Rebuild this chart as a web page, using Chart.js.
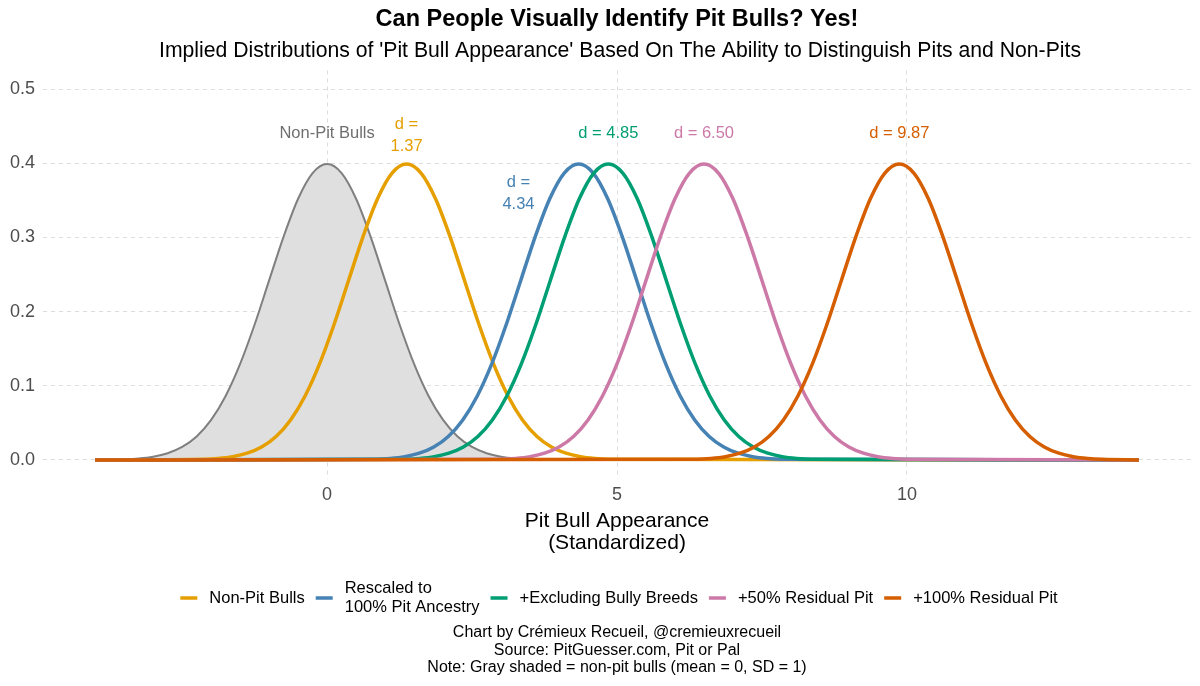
<!DOCTYPE html>
<html>
<head>
<meta charset="utf-8">
<script src="https://cdn.jsdelivr.net/npm/chart.js@4"></script>
<style>
  html, body { margin: 0; padding: 0; background: #ffffff; }
  #wrap { width: 1200px; height: 686px; }
</style>
</head>
<body>
<div id="wrap"><canvas id="chart" width="1200" height="686"></canvas></div>
<script>
// curve points (x = pit bull appearance, y = density)
const grayX = [-4, -3.5, -3.25, -3, -2.75, -2.5, -2.25, -2, -1.75, -1.5, -1.25, -1, -0.75, -0.5, -0.25, 0,
  0.25, 0.5, 0.75, 1, 1.25, 1.5, 1.75, 2, 2.25, 2.5, 2.75, 3, 3.25, 3.5, 4, 14];
const grayY = [0.0001, 0.0009, 0.002, 0.0044, 0.0091, 0.0175, 0.0317, 0.054, 0.0863, 0.1295, 0.1826, 0.242, 0.3011, 0.3521, 0.3867, 0.3989,
  0.3867, 0.3521, 0.3011, 0.242, 0.1826, 0.1295, 0.0863, 0.054, 0.0317, 0.0175, 0.0091, 0.0044, 0.002, 0.0009, 0.0001, 0];

const orangeX = [-4, -2.13, -1.88, -1.63, -1.38, -1.13, -0.88, -0.63, -0.38, -0.13, 0.12, 0.37, 0.62, 0.87, 1.12, 1.37,
  1.62, 1.87, 2.12, 2.37, 2.62, 2.87, 3.12, 3.37, 3.62, 3.87, 4.12, 4.37, 4.62, 4.87, 14];
const orangeY = [0, 0.0009, 0.002, 0.0044, 0.0091, 0.0175, 0.0317, 0.054, 0.0863, 0.1295, 0.1826, 0.242, 0.3011, 0.3521, 0.3867, 0.3989,
  0.3867, 0.3521, 0.3011, 0.242, 0.1826, 0.1295, 0.0863, 0.054, 0.0317, 0.0175, 0.0091, 0.0044, 0.002, 0.0009, 0];

const blueX = [-4, 0.84, 1.09, 1.34, 1.59, 1.84, 2.09, 2.34, 2.59, 2.84, 3.09, 3.34, 3.59, 3.84, 4.09, 4.34,
  4.59, 4.84, 5.09, 5.34, 5.59, 5.84, 6.09, 6.34, 6.59, 6.84, 7.09, 7.34, 7.59, 7.84, 14];
const blueY = [0, 0.0009, 0.002, 0.0044, 0.0091, 0.0175, 0.0317, 0.054, 0.0863, 0.1295, 0.1826, 0.242, 0.3011, 0.3521, 0.3867, 0.3989,
  0.3867, 0.3521, 0.3011, 0.242, 0.1826, 0.1295, 0.0863, 0.054, 0.0317, 0.0175, 0.0091, 0.0044, 0.002, 0.0009, 0];

const greenX = [-4, 1.35, 1.6, 1.85, 2.1, 2.35, 2.6, 2.85, 3.1, 3.35, 3.6, 3.85, 4.1, 4.35, 4.6, 4.85,
  5.1, 5.35, 5.6, 5.85, 6.1, 6.35, 6.6, 6.85, 7.1, 7.35, 7.6, 7.85, 8.1, 8.35, 14];
const greenY = [0, 0.0009, 0.002, 0.0044, 0.0091, 0.0175, 0.0317, 0.054, 0.0863, 0.1295, 0.1826, 0.242, 0.3011, 0.3521, 0.3867, 0.3989,
  0.3867, 0.3521, 0.3011, 0.242, 0.1826, 0.1295, 0.0863, 0.054, 0.0317, 0.0175, 0.0091, 0.0044, 0.002, 0.0009, 0];

const pinkX = [-4, 3, 3.25, 3.5, 3.75, 4, 4.25, 4.5, 4.75, 5, 5.25, 5.5, 5.75, 6, 6.25, 6.5,
  6.75, 7, 7.25, 7.5, 7.75, 8, 8.25, 8.5, 8.75, 9, 9.25, 9.5, 9.75, 10, 14];
const pinkY = [0, 0.0009, 0.002, 0.0044, 0.0091, 0.0175, 0.0317, 0.054, 0.0863, 0.1295, 0.1826, 0.242, 0.3011, 0.3521, 0.3867, 0.3989,
  0.3867, 0.3521, 0.3011, 0.242, 0.1826, 0.1295, 0.0863, 0.054, 0.0317, 0.0175, 0.0091, 0.0044, 0.002, 0.0009, 0];

const redX = [-4, 6.37, 6.62, 6.87, 7.12, 7.37, 7.62, 7.87, 8.12, 8.37, 8.62, 8.87, 9.12, 9.37, 9.62, 9.87,
  10.12, 10.37, 10.62, 10.87, 11.12, 11.37, 11.62, 11.87, 12.12, 12.37, 12.62, 12.87, 13.12, 13.37, 14];
const redY = [0, 0.0009, 0.002, 0.0044, 0.0091, 0.0175, 0.0317, 0.054, 0.0863, 0.1295, 0.1826, 0.242, 0.3011, 0.3521, 0.3867, 0.3989,
  0.3867, 0.3521, 0.3011, 0.242, 0.1826, 0.1295, 0.0863, 0.054, 0.0317, 0.0175, 0.0091, 0.0044, 0.002, 0.0009, 0.0001];

const seriesNames = ["Non-Pit Bulls", ["Rescaled to", "100% Pit Ancestry"], "+Excluding Bully Breeds", "+50% Residual Pit", "+100% Residual Pit"];
const seriesColors = ["#E69F00", "#4682B4", "#009E73", "#CC79A7", "#D55E00"];

// labels over the peaks: [text lines, x, y, colour]
const peakLabels = [
  [["Non-Pit Bulls"], 0, 0.44, "#6f6f6f"],
  [["d =", "1.37"], 1.37, 0.438, "#E69F00"],
  [["d =", "4.34"], 3.3, 0.359, "#4682B4"],
  [["d = 4.85"], 4.85, 0.44, "#009E73"],
  [["d = 6.50"], 6.5, 0.44, "#CC79A7"],
  [["d = 9.87"], 9.87, 0.44, "#D55E00"]
];

const xTicks = [0, 5, 10];
const yTicks = [0, 0.1, 0.2, 0.3, 0.4, 0.5];

const titleText = "Can People Visually Identify Pit Bulls? Yes!";
const subtitleText = "Implied Distributions of 'Pit Bull Appearance' Based On The Ability to Distinguish Pits and Non-Pits";
const xTitle = ["Pit Bull Appearance", "(Standardized)"];
const captionLines = [
  "Chart by Crémieux Recueil, @cremieuxrecueil",
  "Source: PitGuesser.com, Pit or Pal",
  "Note: Gray shaded = non-pit bulls (mean = 0, SD = 1)"
];

const FONT = "'Liberation Sans', Arial, sans-serif";

function pts(xs, ys) {
  return xs.map((x, i) => ({ x: x, y: ys[i] }));
}

function curve(xs, ys, color, order) {
  return {
    data: pts(xs, ys),
    borderColor: color,
    borderWidth: 3.5,
    pointRadius: 0,
    fill: false,
    cubicInterpolationMode: "monotone",
    order: order
  };
}

const datasets = [
  {
    data: pts(grayX, grayY),
    borderColor: "#7f7f7f",
    backgroundColor: "#dfdfdf",
    borderWidth: 2,
    pointRadius: 0,
    fill: "origin",
    cubicInterpolationMode: "monotone",
    order: 6
  },
  curve(orangeX, orangeY, seriesColors[0], 5),
  curve(blueX, blueY, seriesColors[1], 4),
  curve(greenX, greenY, seriesColors[2], 3),
  curve(pinkX, pinkY, seriesColors[3], 2),
  curve(redX, redY, seriesColors[4], 1)
];

const extras = {
  id: "extras",
  afterDraw(chart) {
    const ctx = chart.ctx;
    const xs = chart.scales.x;
    const ys = chart.scales.y;
    const cx = (chart.chartArea.left + chart.chartArea.right) / 2;
    ctx.save();
    ctx.textAlign = "center";
    ctx.textBaseline = "middle";

    // title + subtitle
    ctx.fillStyle = "#000000";
    ctx.font = "bold 23.5px " + FONT;
    ctx.fillText(titleText, cx, 20);
    ctx.font = "21.2px " + FONT;
    ctx.fillText(subtitleText, cx + 3, 51);

    // peak labels
    ctx.font = "16.5px " + FONT;
    peakLabels.forEach(([lines, x, y, col]) => {
      const px = xs.getPixelForValue(x);
      const py = ys.getPixelForValue(y);
      ctx.fillStyle = col;
      const lh = 22;
      lines.forEach((t, i) => {
        ctx.fillText(t, px, py + (i - (lines.length - 1) / 2) * lh);
      });
    });

    // x axis title
    ctx.fillStyle = "#000000";
    ctx.font = "21px " + FONT;
    ctx.fillText(xTitle[0], cx, 521);
    ctx.fillText(xTitle[1], cx, 543);

    // legend
    ctx.font = "16.5px " + FONT;
    ctx.textAlign = "left";
    const keyW = 17, keyGap = 12, itemGap = 11;
    const widths = seriesNames.map(n => {
      const lines = Array.isArray(n) ? n : [n];
      return Math.max(...lines.map(t => ctx.measureText(t).width));
    });
    const total = widths.reduce((a, w) => a + keyW + keyGap + w, 0) + itemGap * (widths.length - 1);
    let lx = cx + 2 - total / 2;
    const ly = 598;
    seriesNames.forEach((n, i) => {
      ctx.strokeStyle = seriesColors[i];
      ctx.lineWidth = 3.5;
      ctx.beginPath();
      ctx.moveTo(lx, ly);
      ctx.lineTo(lx + keyW, ly);
      ctx.stroke();
      ctx.fillStyle = "#000000";
      const lines = Array.isArray(n) ? n : [n];
      lines.forEach((t, j) => {
        ctx.fillText(t, lx + keyW + keyGap, ly + (j - (lines.length - 1) / 2) * 19);
      });
      lx += keyW + keyGap + widths[i] + itemGap;
    });

    // caption
    ctx.textAlign = "center";
    ctx.font = "16px " + FONT;
    captionLines.forEach((t, i) => {
      ctx.fillText(t, cx, 633 + i * 17.5);
    });
    ctx.restore();
  }
};

new Chart(document.getElementById("chart"), {
  type: "line",
  data: { datasets: datasets },
  plugins: [extras],
  options: {
    responsive: false,
    animation: false,
    layout: { padding: { top: 70.5, right: 9, left: 0, bottom: 0 } },
    plugins: {
      legend: { display: false },
      tooltip: { enabled: false },
      title: { display: false }
    },
    scales: {
      x: {
        type: "linear",
        min: -4.9,
        max: 14.9,
        afterBuildTicks: s => { s.ticks = xTicks.map(v => ({ value: v })); },
        afterFit: s => { s.height = 686 - 478.5; },
        grid: { color: "#dddddd", lineWidth: 1, drawTicks: false },
        border: { display: false, dash: [4, 4] },
        ticks: {
          padding: 6,
          color: "#4d4d4d",
          font: { family: FONT, size: 18 },
          callback: v => String(v),
          maxRotation: 0
        }
      },
      y: {
        type: "linear",
        min: -0.025,
        max: 0.525,
        afterBuildTicks: s => { s.ticks = yTicks.map(v => ({ value: v })); },
        afterFit: s => { s.width = 43; },
        grid: { color: "#dddddd", lineWidth: 1, drawTicks: false },
        border: { display: false, dash: [4, 4] },
        ticks: {
          padding: 8,
          color: "#4d4d4d",
          font: { family: FONT, size: 18 },
          callback: v => v.toFixed(1)
        }
      }
    }
  }
});
</script>
</body>
</html>
